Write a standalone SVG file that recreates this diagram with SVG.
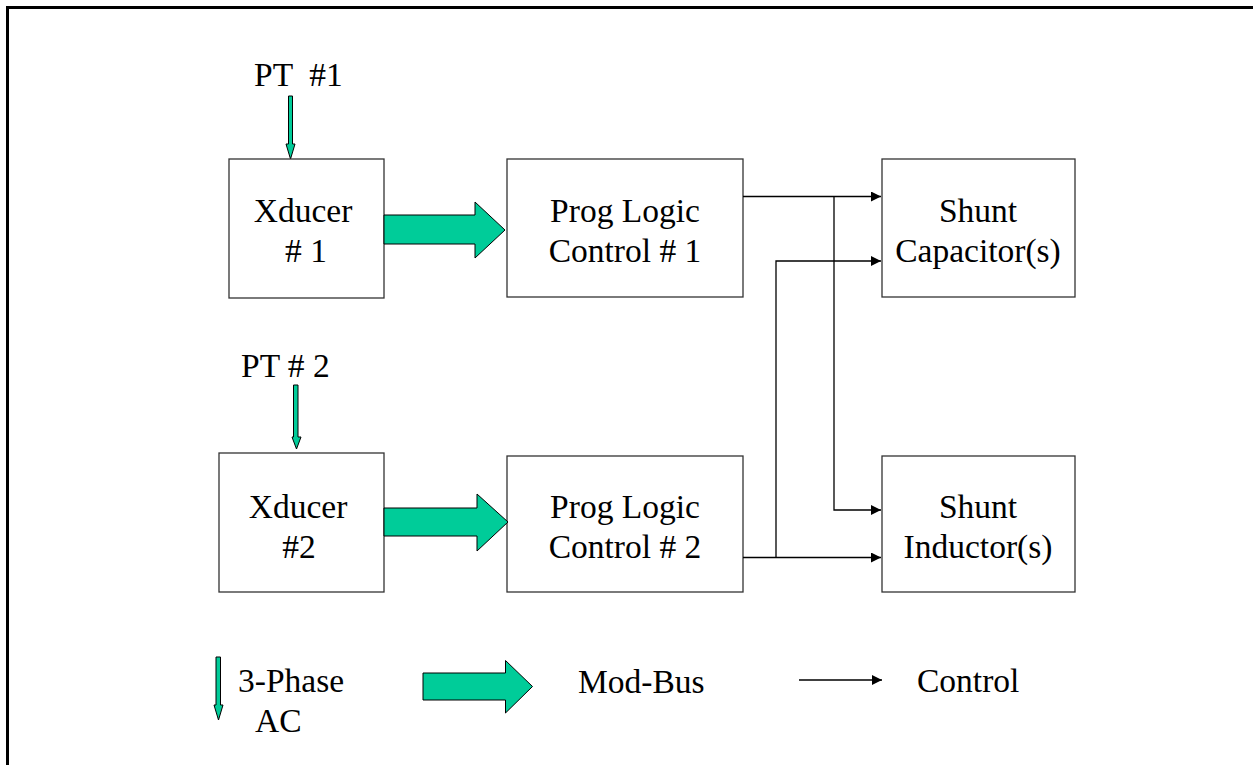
<svg xmlns="http://www.w3.org/2000/svg" width="1253" height="765" viewBox="0 0 1253 765">
  <style>
    .box { fill: #ffffff; stroke: #333333; stroke-width: 1.3; }
    .lbl { font-family: "Liberation Serif", "Times New Roman", serif; font-size: 33.5px; fill: #000000; white-space: pre; }
    .mid { text-anchor: middle; }
    .bus { fill: #00CC99; stroke: #000000; stroke-width: 1; stroke-linejoin: miter; }
    .ctl { fill: none; stroke: #000000; stroke-width: 1.3; }
  </style>
  <defs>
    <marker id="head" viewBox="0 0 10 10" refX="10" refY="5" markerWidth="10" markerHeight="10" markerUnits="userSpaceOnUse" orient="auto">
      <path d="M0,0 L10,5 L0,10 Z" fill="#000000"/>
    </marker>
  </defs>

  <rect width="1253" height="765" fill="#ffffff"/>
  <!-- frame -->
  <rect x="7.5" y="7.5" width="1300" height="800" fill="none" stroke="#000000" stroke-width="3"/>

  <!-- PT inputs -->
  <g id="pt1">
    <text class="lbl" x="254" y="86" xml:space="preserve">PT  #1</text>
    <path class="bus" d="M288.5,96 H292.5 V144 H295 L290.5,159 L286,144 H288.5 Z"/>
  </g>
  <g id="pt2">
    <text class="lbl" x="241" y="377">PT # 2</text>
    <path class="bus" d="M293.5,385 H298 V437 H301 L296.5,449 L292,437 H293.5 Z"/>
  </g>

  <!-- transducers -->
  <g id="xducer1">
    <rect class="box" x="229" y="159" width="155" height="139"/>
    <text class="lbl mid" x="303" y="222">Xducer</text>
    <text class="lbl mid" x="306" y="262"># 1</text>
  </g>
  <g id="xducer2">
    <rect class="box" x="219" y="453" width="165" height="139"/>
    <text class="lbl mid" x="298" y="518">Xducer</text>
    <text class="lbl mid" x="299" y="558">#2</text>
  </g>

  <!-- programmable logic controllers -->
  <g id="plc1">
    <rect class="box" x="507" y="159" width="236" height="138"/>
    <text class="lbl mid" x="625" y="222">Prog Logic</text>
    <text class="lbl mid" x="625" y="262">Control # 1</text>
  </g>
  <g id="plc2">
    <rect class="box" x="507" y="456" width="236" height="136"/>
    <text class="lbl mid" x="625" y="518">Prog Logic</text>
    <text class="lbl mid" x="625" y="558">Control # 2</text>
  </g>

  <!-- shunt devices -->
  <g id="capacitor">
    <rect class="box" x="882" y="159" width="193" height="138"/>
    <text class="lbl mid" x="978" y="222">Shunt</text>
    <text class="lbl mid" x="978" y="262">Capacitor(s)</text>
  </g>
  <g id="inductor">
    <rect class="box" x="882" y="456" width="193" height="136"/>
    <text class="lbl mid" x="978" y="518">Shunt</text>
    <text class="lbl mid" x="978" y="558">Inductor(s)</text>
  </g>

  <!-- connectors -->
  <g id="connectors">
    <!-- Mod-Bus links -->
    <path class="bus" d="M384,215 H475 V202 L505,230 L475,258 V244 H384 Z"/>
    <path class="bus" d="M384,508 H477 V494 L508,522 L477,551 V536 H384 Z"/>
    <!-- control lines -->
    <path class="ctl" d="M743,196.5 H881" marker-end="url(#head)"/>
    <path class="ctl" d="M834,196.5 V510 H881" marker-end="url(#head)" stroke="#555555"/>
    <path class="ctl" d="M743,557.5 H881" marker-end="url(#head)"/>
    <path class="ctl" d="M776,557.5 V261 H881" marker-end="url(#head)"/>
  </g>

  <!-- legend -->
  <g id="legend">
    <path class="bus" d="M216,657 H220.5 V705 H223 L218.5,720 L214,705 H216 Z"/>
    <text class="lbl" x="238" y="692">3-Phase</text>
    <text class="lbl" x="255" y="732">AC</text>
    <path class="bus" d="M423,673 H505.5 V660.5 L532.5,686.5 L505.5,713 V700 H423 Z"/>
    <text class="lbl" x="578" y="693">Mod-Bus</text>
    <path class="ctl" d="M799,680 H882" marker-end="url(#head)"/>
    <text class="lbl" x="917" y="692">Control</text>
  </g>
</svg>
